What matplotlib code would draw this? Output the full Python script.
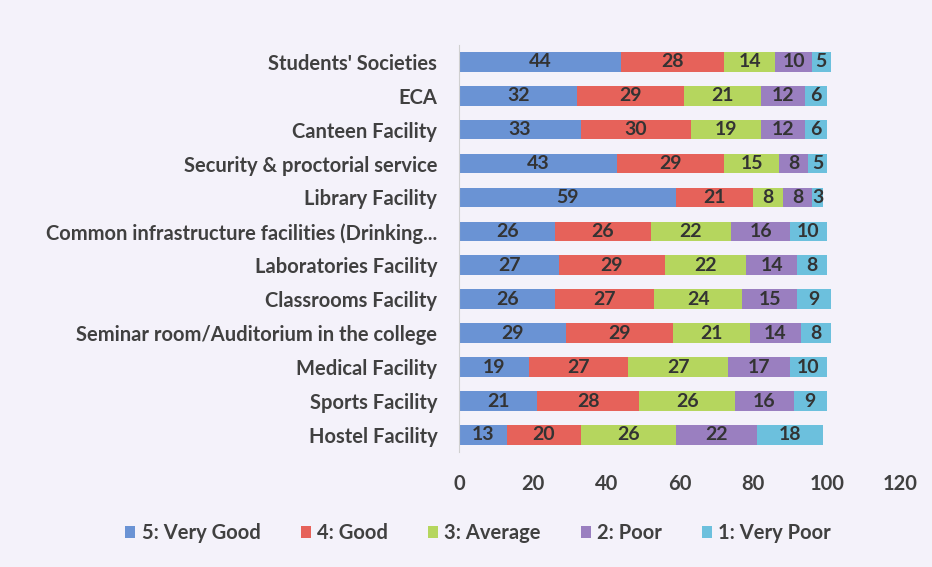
import matplotlib.pyplot as plt
import numpy as np

plt.rcParams['font.family'] = ['Lato', 'DejaVu Sans']

# categories from bottom to top
facilities = ['Hostel Facility', 'Sports Facility', 'Medical Facility',
              'Seminar room/Auditorium in the college', 'Classrooms Facility',
              'Laboratories Facility',
              'Common infrastructure facilities (Drinking...',
              'Library Facility', 'Security & proctorial service',
              'Canteen Facility', 'ECA', "Students' Societies"]

very_good = [13, 21, 19, 29, 26, 27, 26, 59, 43, 33, 32, 44]
good = [20, 28, 27, 29, 27, 29, 26, 21, 29, 30, 29, 28]
average = [26, 26, 27, 21, 24, 22, 22, 8, 15, 19, 21, 14]
poor = [22, 16, 17, 14, 15, 14, 16, 8, 8, 12, 12, 10]
very_poor = [18, 9, 10, 8, 9, 8, 10, 3, 5, 6, 6, 5]

series_names = ['5: Very Good', '4: Good', '3: Average', '2: Poor', '1: Very Poor']
colors = ['#6a93d4', '#e6625a', '#b5d65e', '#9a7fc0', '#6cc0dd']

bg = '#f4f2fa'
fig = plt.figure(figsize=(9.32, 5.67), dpi=100, facecolor=bg)
ax = fig.add_axes([0.493, 0.203, 0.473, 0.718], facecolor=bg)

y = np.arange(len(facilities))
left = np.zeros(len(facilities))
for vals, name, col in zip([very_good, good, average, poor, very_poor],
                           series_names, colors):
    vals = np.array(vals)
    ax.barh(y, vals, left=left, height=0.58, color=col, label=name)
    for yi, l, v in zip(y, left, vals):
        ax.text(l + v / 2, yi, str(v), ha='center', va='center',
                fontsize=14, fontweight='bold', color='#333333')
    left += vals

ax.set_xlim(0, 120)
ax.set_ylim(-0.5, len(facilities) - 0.5)
ax.set_xticks(np.arange(0, 121, 20))
ax.set_yticks(y)
ax.set_yticklabels(facilities)
for lab in ax.get_yticklabels() + ax.get_xticklabels():
    lab.set_fontweight('bold')
    lab.set_fontsize(14.5)
    lab.set_color('#404040')
ax.tick_params(axis='both', length=0)
ax.tick_params(axis='x', pad=16)
ax.tick_params(axis='y', pad=16)
for s in ['top', 'right', 'bottom']:
    ax.spines[s].set_visible(False)
ax.spines['left'].set_color('#d0d0d0')

leg = fig.legend(loc='center', bbox_to_anchor=(0.513, 0.06), ncol=5,
                 frameon=False, handlelength=0.5, handleheight=0.5,
                 handletextpad=0.3, columnspacing=2.0,
                 prop={'weight': 'bold', 'size': 14.5})
for t in leg.get_texts():
    t.set_color('#404040')

plt.savefig('out.png', dpi=100, facecolor=bg)
